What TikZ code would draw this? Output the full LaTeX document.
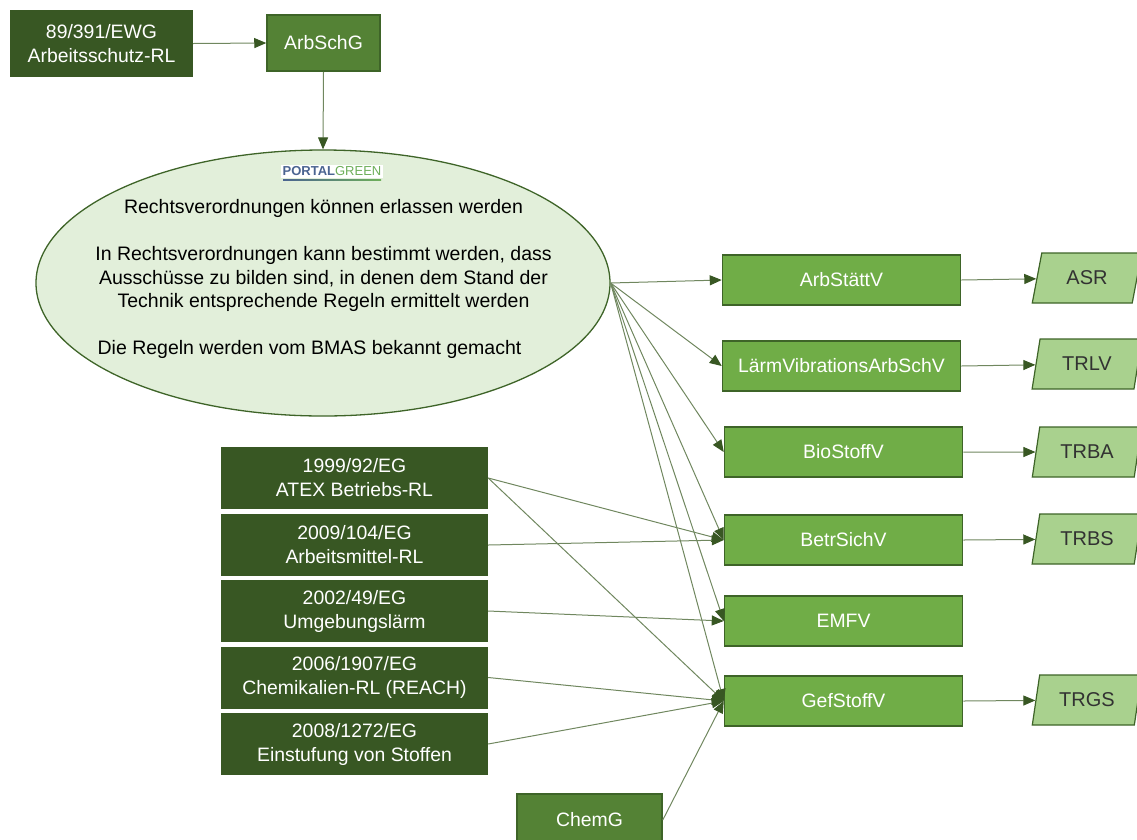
\documentclass[tikz,border=0pt]{standalone}
\usepackage{fontspec}
\setmainfont{Liberation Sans}
\usetikzlibrary{arrows.meta,shapes.geometric}
\definecolor{dkgreen}{RGB}{56,87,35}
\definecolor{mdgreen}{RGB}{84,130,53}
\definecolor{ltgreen}{RGB}{112,173,71}
\definecolor{plgreen}{RGB}{169,209,142}
\definecolor{elfill}{RGB}{226,239,218}
\definecolor{bordergreen}{RGB}{62,100,40}
\definecolor{linegreen}{RGB}{112,135,95}
\definecolor{tipgreen}{RGB}{56,87,35}
\definecolor{logoblue}{RGB}{75,100,145}
\definecolor{logogreen}{RGB}{110,175,90}
\definecolor{paratext}{RGB}{50,50,50}
\begin{document}
\begin{tikzpicture}[x=1pt,y=-1pt,
  every node/.style={font=\fontsize{19.4}{24}\selectfont},
  lawbox/.style={fill=dkgreen, text=white, minimum width=267pt, minimum height=62pt, inner sep=0pt, align=center},
  midbox/.style={fill=mdgreen, draw=bordergreen, line width=1.5pt, text=white, inner sep=0pt, align=center},
  regbox/.style={fill=ltgreen, draw=bordergreen, line width=1.5pt, text=white, minimum width=238pt, minimum height=50pt, inner sep=0pt},
  para/.style={trapezium, trapezium left angle=73, trapezium right angle=107, trapezium stretches=true,
     fill=plgreen, draw=bordergreen, line width=1.2pt, minimum width=110pt, minimum height=50pt, inner sep=0pt,
     text=paratext, font=\fontsize{20}{24}\selectfont},
  conn/.style={draw=linegreen, line width=1pt, -{Triangle[length=12pt,width=10pt,color=tipgreen]}}
]
\useasboundingbox (0,0) rectangle (1137,839);

% top
\node[lawbox, minimum width=183pt, minimum height=67pt] (ewg) at (101.5,43.5) {89/391/EWG\\Arbeitsschutz-RL};
\node[midbox, minimum width=113pt, minimum height=56pt] (arbschg) at (323.5,43) {ArbSchG};

% ellipse
\node[ellipse, fill=elfill, draw=bordergreen, line width=1.3pt, minimum width=574pt, minimum height=266pt] (ell) at (323,283) {};
\node[align=center, font=\fontsize{19.5}{23.6}\selectfont] (elltext) at (323.5,279)
  {Rechtsverordnungen können erlassen werden\\
   \mbox{}\\
   In Rechtsverordnungen kann bestimmt werden, dass\\
   Ausschüsse zu bilden sind, in denen dem Stand der\\
   Technik entsprechende Regeln ermittelt werden\\
   \mbox{}\\
   Die Regeln werden vom BMAS bekannt gemacht\hspace*{28pt}};
\node[fill=white, inner sep=1.5pt, font=\fontsize{13}{13}\selectfont] (logo) at (332,171.5)
  {{\color{logoblue}\bfseries PORTAL}{\color{logogreen}GREEN}};
\shade[left color=logoblue, right color=logogreen] (283,179) rectangle (381,180.5);

% regulations
\node[regbox] (arbst) at (841.5,280) {ArbStättV};
\node[regbox] (laerm) at (841.5,366) {LärmVibrationsArbSchV};
\node[regbox] (bio) at (843.5,452) {BioStoffV};
\node[regbox] (betr) at (843.5,540) {BetrSichV};
\node[regbox] (emfv) at (843.5,621) {EMFV};
\node[regbox] (gef) at (843.5,701) {GefStoffV};

% technical rules
\node[para] (asr) at (1087,278) {ASR};
\node[para] (trlv) at (1087,364) {TRLV};
\node[para] (trba) at (1087,452) {TRBA};
\node[para] (trbs) at (1087,539) {TRBS};
\node[para] (trgs) at (1087,700) {TRGS};

% EU directives
\node[lawbox] (atex) at (354.5,478) {1999/92/EG\\ATEX Betriebs-RL};
\node[lawbox] (amrl) at (354.5,545) {2009/104/EG\\Arbeitsmittel-RL};
\node[lawbox] (uml) at (354.5,611) {2002/49/EG\\Umgebungslärm};
\node[lawbox] (reach) at (354.5,677.5) {2006/1907/EG\\Chemikalien-RL (REACH)};
\node[lawbox] (clp) at (354.5,744) {2008/1272/EG\\Einstufung von Stoffen};

\node[midbox, minimum width=145pt, minimum height=52pt] (chemg) at (589.5,820) {ChemG};

% connectors
\draw[conn] (ewg.east) -- (arbschg.west);
\draw[conn] (arbschg.south) -- (ell.north);
\draw[conn] (ell.east) -- (arbst.west);
\draw[conn] (ell.east) -- (laerm.west);
\draw[conn] (ell.east) -- (bio.west);
\draw[conn] (ell.east) -- (betr.west);
\draw[conn] (ell.east) -- (emfv.west);
\draw[conn] (ell.east) -- (gef.west);

\draw[conn] (arbst.east) -- (asr);
\draw[conn] (laerm.east) -- (trlv);
\draw[conn] (bio.east) -- (trba);
\draw[conn] (betr.east) -- (trbs);
\draw[conn] (gef.east) -- (trgs);

\draw[conn] (atex.east) -- (betr.west);
\draw[conn] (atex.east) -- (gef.west);
\draw[conn] (amrl.east) -- (betr.west);
\draw[conn] (uml.east) -- (emfv.west);
\draw[conn] (reach.east) -- (gef.west);
\draw[conn] (clp.east) -- (gef.west);
\draw[conn] (chemg.east) -- (gef.west);
\end{tikzpicture}
\end{document}
